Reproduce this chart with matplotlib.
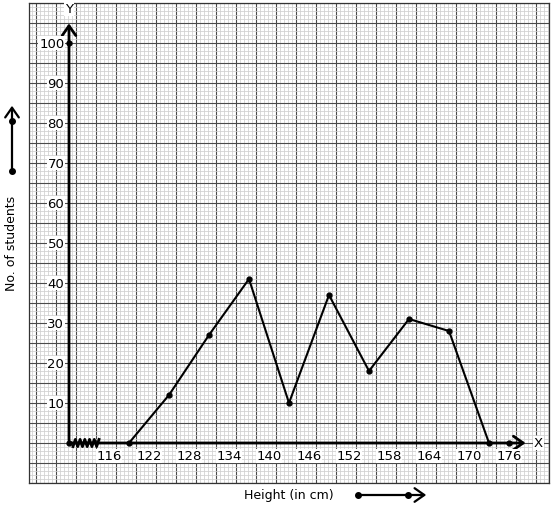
import matplotlib.pyplot as plt
import numpy as np
from matplotlib.ticker import MultipleLocator

# class marks and frequencies of the polygon
heights = [119, 125, 131, 137, 143, 149, 155, 161, 167, 173]
students = [0, 12, 27, 41, 10, 37, 18, 31, 28, 0]

x_ticks = [116, 122, 128, 134, 140, 146, 152, 158, 164, 170, 176]
y_ticks = [10, 20, 30, 40, 50, 60, 70, 80, 90, 100]

X0 = 110  # where the axes cross (break on x axis)

W, H = 554, 510
fig = plt.figure(figsize=(W / 100, H / 100), dpi=100)
ax = fig.add_axes([29 / W, 26 / H, 520 / W, 480 / H])
ax.set_xlim(104, 182)
ax.set_ylim(-10, 110)

# graph paper
ax.xaxis.set_major_locator(MultipleLocator(3))
ax.xaxis.set_minor_locator(MultipleLocator(0.6))
ax.yaxis.set_major_locator(MultipleLocator(5))
ax.yaxis.set_minor_locator(MultipleLocator(1))
ax.grid(which="minor", color="#d0d0d0", lw=0.55)
ax.grid(which="major", color="#4a4a4a", lw=0.8)
ax.set_axisbelow(True)
ax.tick_params(which="both", length=0, labelbottom=False, labelleft=False)
for s in ax.spines.values():
    s.set_color("#333333")
    s.set_linewidth(0.9)

head = dict(arrowstyle="->,head_width=0.35,head_length=0.5", color="black",
            mutation_scale=14)

# axes with open arrowheads
ax.annotate("", xy=(X0, 105.6), xytext=(X0, 0), arrowprops=dict(lw=2, **head))
ax.annotate("", xy=(178.9, 0), xytext=(X0, 0), arrowprops=dict(lw=2, **head))
lbl = dict(fontsize=9.5, bbox=dict(fc="white", ec="none", pad=0.5))
ax.text(X0, 108.6, "Y", ha="center", va="center", **lbl)
ax.text(180.4, 0, "X", ha="center", va="center", **lbl)

# axis break zigzag
zx = np.linspace(110.6, 114.5, 12)
zy = np.where(np.arange(12) % 2 == 0, -0.9, 0.9)
ax.plot(zx, zy, color="black", lw=2, zorder=6)

# tick labels
for v in y_ticks:
    ax.text(X0 - 0.7, v, str(v), ha="right", va="center", **lbl)
for v in x_ticks:
    ax.text(v, -3.2, str(v), ha="center", va="center", **lbl)

# frequency polygon
ax.plot(heights, students, color="black", lw=1.5, marker="o", ms=3.5, zorder=5)
ax.plot([X0, 176, X0], [0, 0, 100], "o", color="black", ms=3.5, zorder=5)

# axis captions with direction arrows
fig.text(12 / W, 1 - 243 / H, "No. of students", rotation=90,
         ha="center", va="center", fontsize=9)
fig.text(289 / W, 1 - 496 / H, "Height (in cm)", ha="center", va="center", fontsize=9)
ax.annotate("", xy=(12 / W, 1 - 104 / H), xytext=(12 / W, 1 - 172 / H),
            xycoords="figure fraction", textcoords="figure fraction",
            arrowprops=dict(lw=1.6, **head))
ax.annotate("", xy=(429 / W, 1 - 496 / H), xytext=(358 / W, 1 - 496 / H),
            xycoords="figure fraction", textcoords="figure fraction",
            arrowprops=dict(lw=1.6, **head))
for px, py in [(12, 122), (12, 172), (358, 496), (408, 496)]:
    fig.add_artist(plt.Line2D([px / W], [1 - py / H], marker="o", ms=4,
                              color="black", zorder=10))

fig.savefig("out.png", dpi=100)
